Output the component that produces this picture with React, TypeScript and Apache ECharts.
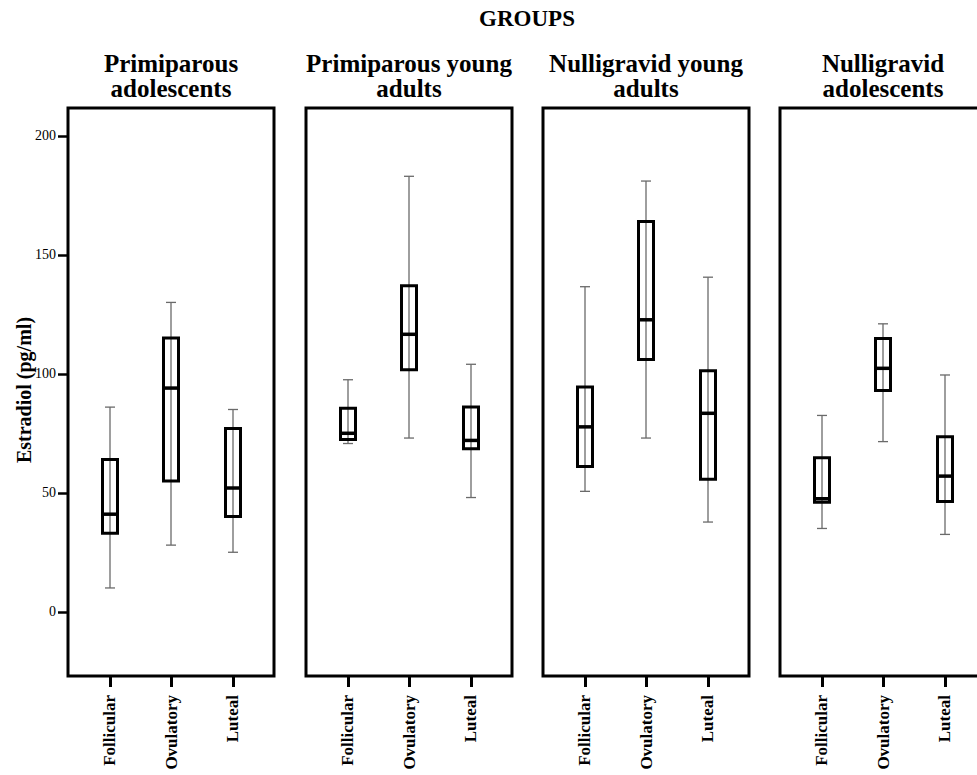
import React, { useEffect, useRef } from 'react';
import * as echarts from 'echarts';

const groupTitles = [
  'Primiparous\nadolescents',
  'Primiparous young\nadults',
  'Nulligravid young\nadults',
  'Nulligravid\nadolescents',
];
const phases = ['Follicular', 'Ovulatory', 'Luteal'];
const yTicks = [0, 50, 100, 150, 200];
const xTicks = [0, 1, 2];

// per phase: [min, Q1, median, Q3, max]
const primiparousAdolescents = [
  [10, 33, 41, 64, 86],
  [28, 55, 94, 115, 130],
  [25, 40, 52, 77, 85],
];
const primiparousYoungAdults = [
  [70.7, 72.4, 75, 85.5, 97.5],
  [73, 101.7, 116.6, 137, 183],
  [48, 68.5, 72, 86, 104],
];
const nulligravidYoungAdults = [
  [50.6, 61, 77.7, 94.4, 136.6],
  [73, 106, 122.7, 164, 181],
  [37.7, 55.7, 83.4, 101.3, 140.6],
];
const nulligravidAdolescents = [
  [35, 46, 47.5, 64.7, 82.5],
  [71.5, 93, 102.3, 114.8, 121],
  [32.5, 46.3, 57, 73.5, 99.5],
];

const groupData = [
  primiparousAdolescents,
  primiparousYoungAdults,
  nulligravidYoungAdults,
  nulligravidAdolescents,
];

const FONT = '"Liberation Serif", "Times New Roman", serif';
const panelLefts = [68, 306, 543, 780];
const PANEL_W = 206;
const PANEL_TOP = 108;
const PANEL_H = 568;

export default function App() {
  const ref = useRef<HTMLDivElement>(null);
  useEffect(() => {
    if (!ref.current) return;
    const chart = echarts.init(ref.current, null, { renderer: 'svg' });

    const grids = panelLefts.map((l) => ({
      left: l,
      top: PANEL_TOP,
      width: PANEL_W,
      height: PANEL_H,
      show: true,
      borderColor: '#000',
      borderWidth: 3,
      backgroundColor: 'transparent',
      containLabel: false,
      outerBoundsMode: 'none',
    }));

    const xAxes = panelLefts.map((_, i) => ({
      type: 'value',
      gridIndex: i,
      position: 'bottom',
      min: -0.683,
      max: 2.667,
      axisLine: { show: false, onZero: false },
      splitLine: { show: false },
      axisTick: {
        show: true,
        customValues: xTicks,
        length: 11,
        lineStyle: { color: '#000', width: 3 },
      },
      axisLabel: {
        show: true,
        customValues: xTicks,
        rotate: 90,
        margin: 19,
        fontFamily: FONT,
        fontWeight: 'bold',
        fontSize: 17,
        color: '#000',
        formatter: (v: number) => phases[Math.round(v)] ?? '',
      },
    }));

    const yAxes = panelLefts.map((_, i) => ({
      type: 'value',
      gridIndex: i,
      position: 'left',
      min: -27,
      max: 211.7,
      splitLine: { show: false },
      axisLine: { show: false, onZero: false },
      axisTick: {
        show: i === 0,
        customValues: yTicks,
        length: 10,
        lineStyle: { color: '#000', width: 2.5 },
      },
      axisLabel: {
        show: i === 0,
        customValues: yTicks,
        margin: 12,
        fontFamily: FONT,
        fontSize: 14,
        color: '#000',
      },
    }));

    const series = groupData.map((g, i) => ({
      type: 'custom',
      xAxisIndex: i,
      yAxisIndex: i,
      encode: { x: 0, y: [1, 2, 3, 4, 5] },
      data: g.map((v, k) => [k, ...v]),
      renderItem: (_params: any, api: any) => {
        const x = api.value(0);
        const pMin = api.coord([x, api.value(1)]);
        const pQ1 = api.coord([x, api.value(2)]);
        const pMed = api.coord([x, api.value(3)]);
        const pQ3 = api.coord([x, api.value(4)]);
        const pMax = api.coord([x, api.value(5)]);
        const cx = Math.round(pMin[0]);
        const bw = 15;
        const cw = 10;
        const gray = { stroke: '#6a6a6a', lineWidth: 1.3 };
        return {
          type: 'group',
          children: [
            { type: 'line', shape: { x1: cx, y1: pMax[1], x2: cx, y2: pMin[1] }, style: gray },
            { type: 'line', shape: { x1: cx - cw / 2, y1: pMax[1], x2: cx + cw / 2, y2: pMax[1] }, style: gray },
            { type: 'line', shape: { x1: cx - cw / 2, y1: pMin[1], x2: cx + cw / 2, y2: pMin[1] }, style: gray },
            {
              type: 'rect',
              shape: { x: cx - bw / 2, y: pQ3[1], width: bw, height: pQ1[1] - pQ3[1] },
              style: { fill: 'none', stroke: '#000', lineWidth: 3 },
            },
            {
              type: 'line',
              shape: { x1: cx - bw / 2, y1: pMed[1], x2: cx + bw / 2, y2: pMed[1] },
              style: { stroke: '#000', lineWidth: 3.5 },
            },
          ],
        };
      },
    }));

    const graphic: any[] = [
      {
        type: 'text',
        x: 527,
        y: 18,
        style: {
          text: 'GROUPS',
          fontFamily: FONT,
          fontWeight: 'bold',
          fontSize: 23,
          fill: '#000',
          textAlign: 'center',
          textVerticalAlign: 'middle',
        },
      },
      {
        type: 'text',
        x: 24,
        y: 390,
        rotation: Math.PI / 2,
        style: {
          text: 'Estradiol (pg/ml)',
          fontFamily: FONT,
          fontWeight: 'bold',
          fontSize: 20,
          fill: '#000',
          textAlign: 'center',
          textVerticalAlign: 'middle',
        },
      },
      ...groupTitles.map((t, i) => ({
        type: 'text',
        x: panelLefts[i] + PANEL_W / 2,
        y: 76,
        style: {
          text: t,
          fontFamily: FONT,
          fontWeight: 'bold',
          fontSize: 25,
          lineHeight: 25,
          fill: '#000',
          textAlign: 'center',
          textVerticalAlign: 'middle',
        },
      })),
    ];

    chart.setOption({
      animation: false,
      backgroundColor: '#fff',
      grid: grids,
      xAxis: xAxes,
      yAxis: yAxes,
      series,
      graphic,
    } as any);

    return () => chart.dispose();
  }, []);

  return (
    <div
      ref={ref}
      style={{ position: 'fixed', left: 0, top: 0, width: 977, height: 775, background: '#fff' }}
    />
  );
}
